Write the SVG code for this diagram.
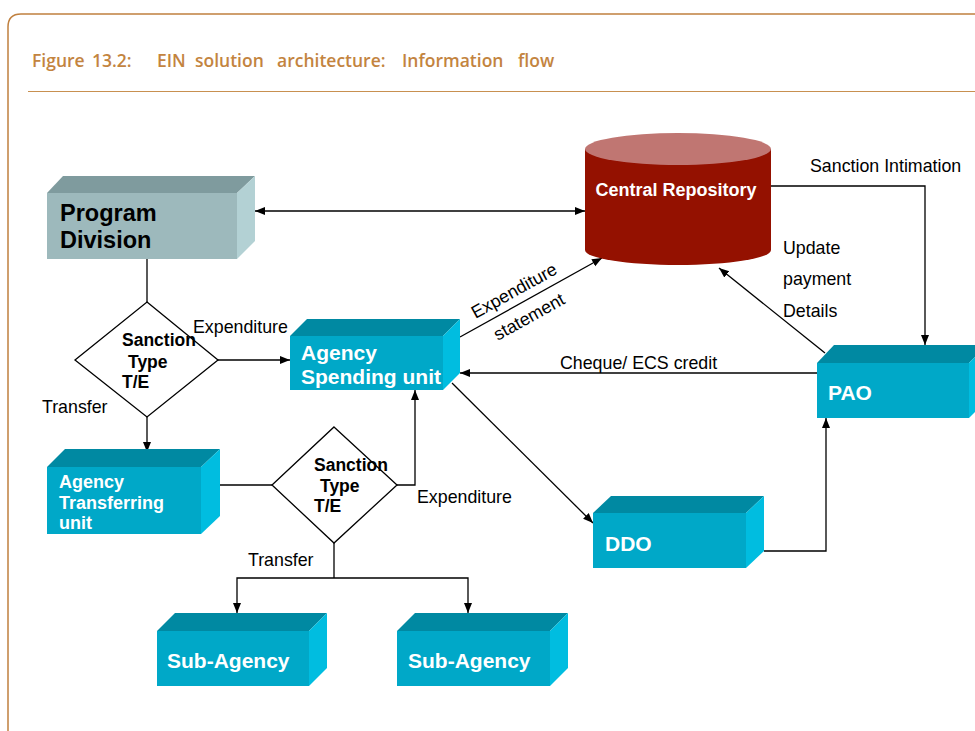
<svg xmlns="http://www.w3.org/2000/svg" width="975" height="731" viewBox="0 0 975 731">
<defs>
<marker id="ah" viewBox="0 0 10 10" refX="10" refY="5" markerWidth="10" markerHeight="10" markerUnits="userSpaceOnUse" orient="auto-start-reverse">
<path d="M0,1 L10,5 L0,9 Z" fill="#000"/>
</marker>
<style>
.frame{fill:none;stroke:#c0803f;stroke-width:1.5}
.title{font-family:"Open Sans","Liberation Sans",sans-serif;font-weight:600;font-size:17.5px;fill:#c3843f}
.ln{fill:none;stroke:#000;stroke-width:1.3}
.lbl{font-family:"Liberation Sans",Arial,sans-serif;font-size:17.8px;fill:#000}
.dl{font-family:"Liberation Sans",Arial,sans-serif;font-size:17.5px;font-weight:bold;fill:#000}
.bt{font-family:"Liberation Sans",Arial,sans-serif;font-weight:bold;fill:#fff}
.front{fill:#00a8c8}
.top{fill:#0089a2}
.side{fill:#00bde0}
.diam{fill:#fff;stroke:#000;stroke-width:1.3}
</style>
</defs>
<rect width="975" height="731" fill="#fff"/>
<path class="frame" d="M8,740 L8,27 Q8,14 21,14 L990,14"/>
<text class="title" y="66.5"><tspan x="32">Figure</tspan><tspan x="92">13.2:</tspan><tspan x="157">EIN</tspan><tspan x="195">solution</tspan><tspan x="277">architecture:</tspan><tspan x="402">Information</tspan><tspan x="518">flow</tspan></text>
<line x1="28" y1="91.5" x2="975" y2="91.5" stroke="#c89050" stroke-width="1.2"/>

<g id="connectors">
<line class="ln" x1="255" y1="211" x2="585" y2="211" marker-start="url(#ah)" marker-end="url(#ah)"/>
<line class="ln" x1="147" y1="259" x2="147" y2="302"/>
<line class="ln" x1="218" y1="360" x2="290" y2="360" marker-end="url(#ah)"/>
<line class="ln" x1="147" y1="417" x2="147" y2="452" marker-end="url(#ah)"/>
<line class="ln" x1="210" y1="485" x2="272" y2="485"/>
<polyline class="ln" points="397,485 415,485 415,390" marker-end="url(#ah)"/>
<line class="ln" x1="334" y1="543" x2="334" y2="578"/>
<polyline class="ln" points="237,613 237,578 468,578 468,613" marker-start="url(#ah)" marker-end="url(#ah)"/>
<line class="ln" x1="460" y1="337" x2="602" y2="258" marker-end="url(#ah)"/>
<line class="ln" x1="452" y1="383" x2="593" y2="523" marker-end="url(#ah)"/>
<line class="ln" x1="817" y1="373" x2="460" y2="373" marker-end="url(#ah)"/>
<line class="ln" x1="825" y1="353" x2="719" y2="268" marker-end="url(#ah)"/>
<polyline class="ln" points="770,186 925,186 925,345" marker-end="url(#ah)"/>
<polyline class="ln" points="764,551 826,551 826,418" marker-end="url(#ah)"/>
<text class="lbl" x="193" y="333">Expenditure</text>
<text class="lbl" x="42" y="413">Transfer</text>
<text class="lbl" x="417" y="503">Expenditure</text>
<text class="lbl" x="248" y="566">Transfer</text>
<text class="lbl" x="560" y="369">Cheque/ ECS credit</text>
<text class="lbl" x="810" y="172">Sanction Intimation</text>
<text class="lbl" x="783" y="254">Update</text>
<text class="lbl" x="783" y="285">payment</text>
<text class="lbl" x="783" y="317">Details</text>
<text class="lbl" transform="translate(517,296) rotate(-29)" text-anchor="middle">Expenditure</text>
<text class="lbl" transform="translate(532,322) rotate(-29)" text-anchor="middle">statement</text>
</g>

<g id="program-division">
<polygon points="47,193 63,176 255,176 237,193" fill="#7f9b9e"/>
<polygon points="237,193 255,176 255,241 237,259" fill="#b3d1d4"/>
<rect x="47" y="193" width="190" height="66" fill="#9db9bc"/>
<text class="bt" x="60" y="221" font-size="23.5" style="fill:#000">Program</text>
<text class="bt" x="60" y="248" font-size="23.5" style="fill:#000">Division</text>
</g>

<g id="central-repository">
<path d="M585,149 L585,250 A93,15 0 0 0 771,250 L771,149 Z" fill="#941100"/>
<ellipse cx="678" cy="149" rx="93" ry="16" fill="#c07672"/>
<text class="bt" x="676" y="196" font-size="18" text-anchor="middle">Central Repository</text>
</g>

<g id="decision-1">
<polygon class="diam" points="147,302 218,360 147,417 75,360"/>
<text class="dl" x="122" y="346">Sanction</text>
<text class="dl" x="128" y="368">Type</text>
<text class="dl" x="122" y="388">T/E</text>
</g>

<g id="agency-spending-unit">
<polygon class="top" points="290,336 307,319 460,319 443,336"/>
<polygon class="side" points="443,336 460,319 460,373 443,390"/>
<rect class="front" x="290" y="336" width="153" height="54"/>
<text class="bt" x="301" y="360" font-size="21">Agency</text>
<text class="bt" x="301" y="384" font-size="21">Spending unit</text>
</g>

<g id="agency-transferring-unit">
<polygon class="top" points="47,467 65,449 220,449 201,467"/>
<polygon class="side" points="201,467 220,449 220,516 201,534"/>
<rect class="front" x="47" y="467" width="154" height="67"/>
<text class="bt" x="59" y="488" font-size="18">Agency</text>
<text class="bt" x="59" y="509" font-size="18">Transferring</text>
<text class="bt" x="59" y="529" font-size="18">unit</text>
</g>

<g id="decision-2">
<polygon class="diam" points="334,427 397,485 334,543 272,485"/>
<text class="dl" x="314" y="471">Sanction</text>
<text class="dl" x="320" y="492">Type</text>
<text class="dl" x="314" y="512">T/E</text>
</g>

<g id="sub-agency-1">
<polygon class="top" points="157,631 175,613 327,613 309,631"/>
<polygon class="side" points="309,631 327,613 327,668 309,686"/>
<rect class="front" x="157" y="631" width="152" height="55"/>
<text class="bt" x="167" y="668" font-size="21">Sub-Agency</text>
</g>

<g id="sub-agency-2">
<polygon class="top" points="397,631 415,613 568,613 550,631"/>
<polygon class="side" points="550,631 568,613 568,668 550,686"/>
<rect class="front" x="397" y="631" width="153" height="55"/>
<text class="bt" x="408" y="668" font-size="21">Sub-Agency</text>
</g>

<g id="ddo">
<polygon class="top" points="593,513 611,496 764,496 746,513"/>
<polygon class="side" points="746,513 764,496 764,551 746,568"/>
<rect class="front" x="593" y="513" width="153" height="55"/>
<text class="bt" x="605" y="551" font-size="21">DDO</text>
</g>

<g id="pao">
<polygon class="top" points="817,363 834,345 987,345 969,363"/>
<polygon class="side" points="969,363 987,345 987,400 969,418"/>
<rect class="front" x="817" y="363" width="152" height="55"/>
<text class="bt" x="828" y="400" font-size="21">PAO</text>
</g>
</svg>
